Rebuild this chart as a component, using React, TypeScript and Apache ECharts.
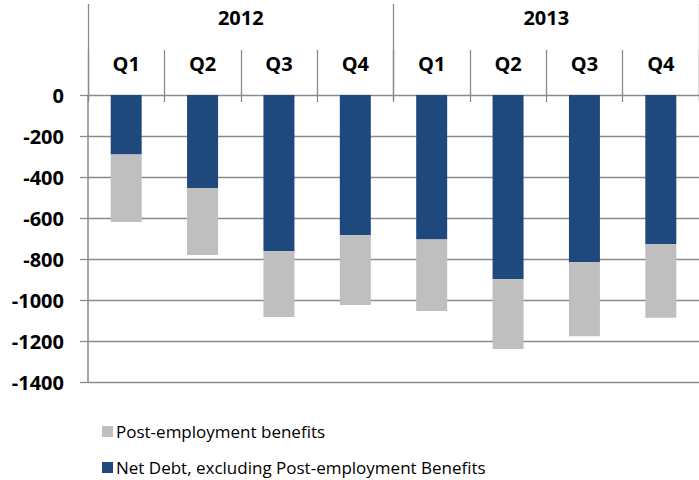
import React, { useEffect, useRef } from "react";
import * as echarts from "echarts";

const quarters = ["Q1", "Q2", "Q3", "Q4", "Q1", "Q2", "Q3", "Q4"];
const years = ["2012", "2013"];
const netDebt = [-290, -455, -762, -684, -705, -899, -816, -728];
const postEmployment = [-330, -325, -321, -340, -349, -340, -361, -359];
const seriesNames = ["Net Debt, excluding Post-employment Benefits", "Post-employment benefits"];

const FONT = "'Open Sans', 'DejaVu Sans', sans-serif";
const LINE = "#8a8a8a";

const legendBase = {
  orient: "horizontal",
  left: 97,
  itemWidth: 11,
  itemHeight: 11,
  icon: "rect",
  selectedMode: false,
  textStyle: { fontFamily: FONT, fontSize: 17, color: "#000", lineHeight: 17, padding: [0, 0, 0, -2] },
};

export default function App() {
  const ref = useRef<HTMLDivElement>(null);
  useEffect(() => {
    document.body.style.margin = "0";
    if (!ref.current) return;
    const chart = echarts.init(ref.current, null, { renderer: "svg" });
    chart.setOption({
      animation: false,
      grid: { left: 88, top: 95, width: 619, height: 287 },
      legend: [
        { ...legendBase, top: 418, data: [seriesNames[1]] },
        { ...legendBase, top: 454, data: [seriesNames[0]] },
      ],
      xAxis: [
        {
          type: "category",
          data: quarters,
          position: "top",
          offset: -7,
          axisLine: { show: false },
          axisTick: { show: true, length: 52, lineStyle: { color: LINE, width: 1.3 } },
          axisLabel: { interval: 0, margin: 29, fontFamily: FONT, fontSize: 20, fontWeight: "bold", color: "#000" },
          splitLine: { show: false },
        },
        {
          type: "category",
          data: years,
          position: "top",
          offset: -5,
          axisLine: { show: false },
          axisTick: { show: true, length: 96, lineStyle: { color: LINE, width: 1.3 } },
          axisLabel: { interval: 0, margin: 73, fontFamily: FONT, fontSize: 20, fontWeight: "bold", color: "#000" },
          splitLine: { show: false },
        },
      ],
      yAxis: {
        type: "value",
        min: -1400,
        max: 0,
        interval: 200,
        axisLine: { show: true, lineStyle: { color: LINE, width: 1.5 } },
        axisTick: { show: true, length: 8, lineStyle: { color: LINE, width: 1.3 } },
        axisLabel: {
          margin: 24,
          fontFamily: FONT,
          fontSize: 20,
          fontWeight: "bold",
          color: "#000",
          formatter: (v: number) => String(v),
        },
        splitLine: { show: true, lineStyle: { color: LINE, width: 1.3 } },
      },
      series: [
        {
          name: seriesNames[0],
          type: "bar",
          stack: "total",
          xAxisIndex: 0,
          barWidth: 31,
          data: netDebt,
          itemStyle: { color: "#1F497D" },
        },
        {
          name: seriesNames[1],
          type: "bar",
          stack: "total",
          xAxisIndex: 0,
          barWidth: 31,
          data: postEmployment,
          itemStyle: { color: "#BFBFBF" },
        },
      ],
    });
    return () => chart.dispose();
  }, []);
  return <div ref={ref} style={{ width: 699, height: 480 }} />;
}
